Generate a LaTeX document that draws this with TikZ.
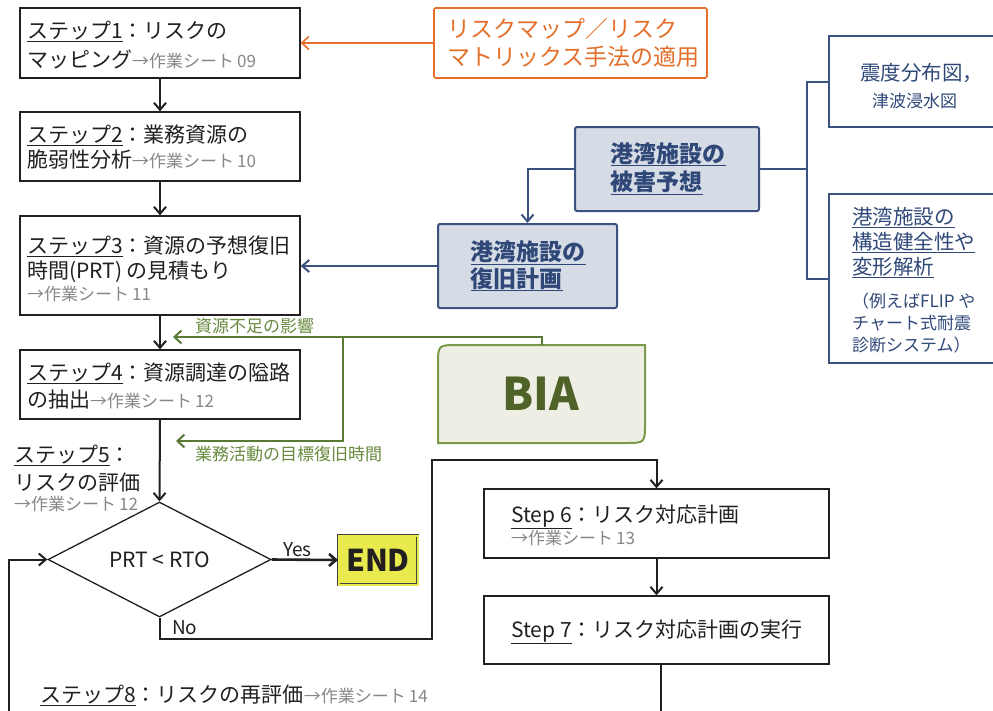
\documentclass[tikz,border=0pt]{standalone}
\usepackage{fontspec}
\setmainfont{Noto Sans CJK JP}
\usetikzlibrary{arrows.meta,shapes.geometric}
\definecolor{tx}{RGB}{35,31,32}
\definecolor{gr}{RGB}{135,135,135}
\definecolor{org}{RGB}{228,112,44}
\definecolor{bl}{RGB}{59,82,128}
\definecolor{blf}{RGB}{214,220,229}
\definecolor{blt}{RGB}{47,72,120}
\definecolor{gl}{RGB}{88,122,52}
\definecolor{glt}{RGB}{104,138,62}
\definecolor{gb}{RGB}{122,154,72}
\definecolor{gf}{RGB}{238,238,228}
\definecolor{gt}{RGB}{79,98,40}
\definecolor{yel}{RGB}{232,234,78}
\newcommand{\wsheet}[1]{{\fontsize{17}{17}\selectfont\color{gr}→作業シート\hspace{3pt}#1}}
\tikzset{
  box/.style={draw=tx, line width=1.3pt, fill=white, inner sep=0pt},
  conn/.style={draw=tx, line width=2pt, -{Straight Barb[length=7pt,width=12pt]}},
  plain/.style={draw=tx, line width=2pt},
  oconn/.style={draw=org, line width=1.6pt, -{Straight Barb[length=7pt,width=13pt]}},
  bconn/.style={draw=bl, line width=2pt, -{Straight Barb[length=7pt,width=12pt]}},
  bline/.style={draw=bl, line width=2pt},
  gconn/.style={draw=gl, line width=2pt, -{Straight Barb[length=7pt,width=13pt]}},
  bbox/.style={draw=bl, line width=2pt, fill=blf, rounded corners=2pt, inner sep=0pt},
  rbox/.style={draw=bl, line width=1.3pt, fill=white, inner sep=0pt},
  lt/.style={anchor=base west, inner sep=0pt, text=tx, font=\fontsize{21}{21}\selectfont},
  lto/.style={anchor=base west, inner sep=0pt, text=org, font=\fontsize{23}{23}\selectfont},
  ltb/.style={anchor=base west, inner sep=0pt, text=blt, font=\fontsize{23}{23}\selectfont\bfseries},
  ltr/.style={anchor=base west, inner sep=0pt, text=blt, font=\fontsize{20.5}{20.5}\selectfont},
  ltrs/.style={anchor=base west, inner sep=0pt, text=blt, font=\fontsize{17}{17}\selectfont},
  ltg/.style={anchor=base west, inner sep=0pt, text=glt, font=\fontsize{17}{17}\selectfont},
}
\begin{document}
\begin{tikzpicture}[x=1pt,y=-1pt]
\useasboundingbox (0,0) rectangle (993,710);
\clip (0,0) rectangle (993,710);
\fill[white] (0,0) rectangle (993,710);

% ---------- step boxes ----------
\node[box, minimum width=280pt, minimum height=70pt] (b1) at (160,43) {};
\node[box, minimum width=280pt, minimum height=69pt] (b2) at (160,146.5) {};
\node[box, minimum width=280pt, minimum height=99pt] (b3) at (160,265.5) {};
\node[box, minimum width=280pt, minimum height=69pt] (b4) at (160,384.5) {};

\node[lt] (b1a) at (27,38.5) {\underline{ステップ1}：リスクの};
\node[lt] (b1b) at (27,67) {マッピング\wsheet{09}};
\node[lt] (b2a) at (27,142) {\underline{ステップ2}：業務資源の};
\node[lt] (b2b) at (27,167.5) {脆弱性分析\wsheet{10}};
\node[lt] (b3a) at (27,253.5) {\underline{ステップ3}：資源の予想復旧};
\node[lt] (b3b) at (27,278.5) {時間(PRT) の見積もり};
\node[lt] (b3c) at (27,300.5) {\wsheet{11}};
\node[lt] (b4a) at (27,380.5) {\underline{ステップ4}：資源調達の隘路};
\node[lt] (b4b) at (27,407) {の抽出\wsheet{12}};

\node[lt] (s5a) at (14,462) {\underline{ステップ5}：};
\node[lt] (s5b) at (14,490.5) {リスクの評価};
\node[lt] (s5c) at (14,510.5) {\wsheet{12}};

\node[lt] (s8) at (40,702) {\underline{ステップ8}：リスクの再評価\wsheet{14}};

% ---------- decision ----------
\node[diamond, draw=tx, line width=1.3pt, fill=white, minimum width=223pt, minimum height=115pt, aspect=1.94, inner sep=0pt, text=tx, font=\fontsize{21}{21}\selectfont] (dia) at (159.5,559.5) {PRT < RTO};
\node[box, draw=tx!85, line width=0.9pt, double=yel, double distance=2pt, fill=yel, minimum width=79pt, minimum height=49pt, font=\fontsize{30}{30}\selectfont\bfseries, text=tx] (endb) at (378,560) {END};
\node[lt, font=\fontsize{19}{19}\selectfont] (yes) at (283,556) {Yes};
\node[lt, font=\fontsize{19}{19}\selectfont] (no) at (172,634) {No};

% ---------- step 6 / 7 ----------
\node[box, minimum width=345pt, minimum height=69pt] (s6) at (656.5,523.5) {};
\node[box, minimum width=345pt, minimum height=68pt] (s7) at (656.5,630) {};
\node[lt] (s6a) at (511,522) {\underline{Step 6}：リスク対応計画};
\node[lt] (s6b) at (511,544) {\wsheet{13}};
\node[lt] (s7a) at (511,637) {\underline{Step 7}：リスク対応計画の実行};

% ---------- orange box ----------
\node[draw=org, line width=1.6pt, fill=white, rounded corners=1.5pt, minimum width=273pt, minimum height=70pt, inner sep=0pt] (ob) at (570.5,43) {};
\node[lto] (oba) at (447,37) {リスクマップ／リスク};
\node[lto] (obb) at (447,65.5) {マトリックス手法の適用};

% ---------- blue boxes ----------
\node[bbox, minimum width=184pt, minimum height=84pt] (hy) at (667,169) {};
\node[ltb] (hya) at (610.5,162) {\underline{港湾施設の}};
\node[ltb] (hyb) at (610.5,190.5) {\underline{被害予想}};
\node[bbox, minimum width=179pt, minimum height=84pt] (fk) at (527.5,266) {};
\node[ltb] (fka) at (470.5,260.5) {\underline{港湾施設の}};
\node[ltb] (fkb) at (470.5,287) {\underline{復旧計画}};

\node[rbox, minimum width=190pt, minimum height=91pt] (sd) at (924,81.5) {};
\node[ltr] (sda) at (860,80) {震度分布図，};
\node[ltrs] (sdb) at (872,107) {津波浸水図};
\node[rbox, minimum width=190pt, minimum height=169pt] (kz) at (924,278.5) {};
\node[ltr] (kza) at (852,224) {\underline{港湾施設の}};
\node[ltr] (kzb) at (852,249) {\underline{構造健全性や}};
\node[ltr] (kzc) at (852,274) {\underline{変形解析}};
\node[ltrs] (kzd) at (852,307) {（例えばFLIP や};
\node[ltrs] (kze) at (852,329) {チャート式耐震};
\node[ltrs] (kzf) at (852,351) {診断システム）};

% ---------- BIA ----------
\draw[draw=gb, line width=2pt, fill=gf] (438,443) -- (438,365) .. controls (438,345) .. (458,345) -- (645,345) -- (645,423) .. controls (645,443) .. (625,443) -- cycle;
\node[inner sep=0pt, text=gt, font=\fontsize{45}{45}\selectfont\bfseries] (bia) at (541,394) {BIA};
\node[ltg] (gla) at (195,332) {資源不足の影響};
\node[ltg] (glb) at (195,460) {業務活動の目標復旧時間};

% ---------- coordinates ----------
\coordinate (biatop) at (542,345);
\coordinate (g1) at (542,337);
\coordinate (ga) at (173,337);
\coordinate (gv) at (343,337);
\coordinate (gbt) at (176,441);
\coordinate (n2) at (432,639);
\coordinate (n3) at (432,460);
\coordinate (lb) at (9,715);
\coordinate (jn) at (807,169);

% ---------- connectors ----------
\draw[conn] (b1.south) -- (b2.north);
\draw[conn] (b2.south) -- (b3.north);
\draw[conn] (b3.south) -- (b4.north);
\draw[conn] (b4.south) -- (dia.north);
\draw[conn, line width=2.6pt] (dia.east) -- (endb.west);
\draw[conn] (dia.south) |- (n2) -- (n3) -| (s6.north);
\draw[conn] (s6.south) -- (s7.south |- s7.north);
\draw[plain] ([xshift=4pt]s7.south) -- ++(0,50);
\draw[conn] (lb) |- (dia.west);

\draw[oconn] (ob.west) -- (ob.west -| b1.east);
\draw[bconn] (hy.west) -| (fk.north);
\draw[bconn] (fk.west) -- (fk.west -| b3.east);
\draw[bline] (hy.east) -- (jn);
\draw[bline] (sd.west) -| (jn) |- (kz.west);

\draw[gconn] (biatop) -- (g1) -- (ga);
\draw[gconn] (gv) |- (gbt);
\end{tikzpicture}
\end{document}
